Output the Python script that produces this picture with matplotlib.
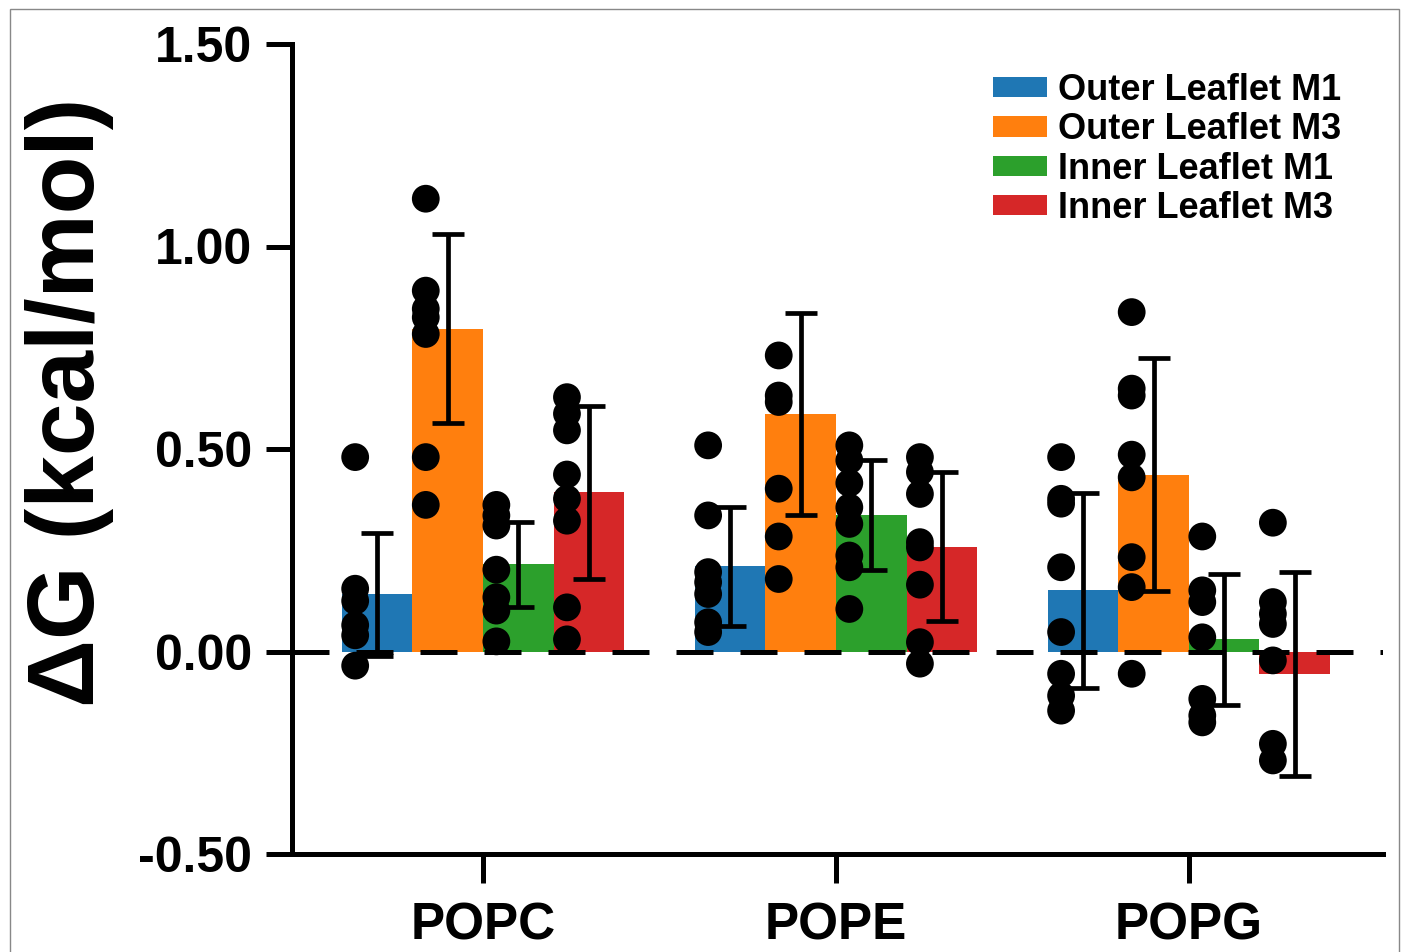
import numpy as np
import matplotlib.pyplot as plt
from matplotlib.patches import Rectangle

plt.rcParams['font.family'] = ['Liberation Sans', 'DejaVu Sans']
plt.rcParams['font.weight'] = 'bold'

# dados
lipidios = ['POPC', 'POPE', 'POPG']
series = ['Outer Leaflet M1', 'Outer Leaflet M3', 'Inner Leaflet M1', 'Inner Leaflet M3']
cores = ['#1f77b4', '#ff7f0e', '#2ca02c', '#d62728']

# médias (altura das barras), por série, na ordem POPC, POPE, POPG
media_out_m1 = [0.141, 0.210, 0.151]
media_out_m3 = [0.797, 0.587, 0.437]
media_in_m1 = [0.215, 0.337, 0.030]
media_in_m3 = [0.393, 0.259, -0.055]

# desvio padrão (barras de erro)
dp_out_m1 = [0.151, 0.147, 0.240]
dp_out_m3 = [0.233, 0.249, 0.288]
dp_in_m1 = [0.105, 0.135, 0.162]
dp_in_m3 = [0.214, 0.183, 0.252]

# pontos individuais
pts_out_m1 = [
    [0.48, 0.155, 0.125, 0.065, 0.04, -0.035],
    [0.509, 0.336, 0.196, 0.171, 0.142, 0.072, 0.048],
    [0.48, 0.377, 0.365, 0.208, 0.048, -0.055, -0.109, -0.146],
]
pts_out_m3 = [
    [1.118, 0.891, 0.846, 0.825, 0.784, 0.48, 0.362],
    [0.731, 0.632, 0.616, 0.402, 0.284, 0.179],
    [0.838, 0.649, 0.632, 0.486, 0.43, 0.233, 0.159, -0.055],
]
pts_in_m1 = [
    [0.362, 0.336, 0.311, 0.202, 0.134, 0.101, 0.025],
    [0.509, 0.472, 0.416, 0.356, 0.315, 0.237, 0.208, 0.105],
    [0.284, 0.151, 0.122, 0.035, -0.117, -0.158, -0.175],
]
pts_in_m3 = [
    [0.628, 0.587, 0.546, 0.437, 0.377, 0.323, 0.109, 0.03],
    [0.48, 0.443, 0.389, 0.27, 0.257, 0.165, 0.023, -0.03],
    [0.318, 0.122, 0.093, 0.068, -0.022, -0.228, -0.269],
]

medias = [media_out_m1, media_out_m3, media_in_m1, media_in_m3]
desvios = [dp_out_m1, dp_out_m3, dp_in_m1, dp_in_m3]
pontos = [pts_out_m1, pts_out_m3, pts_in_m1, pts_in_m3]

yticks = [-0.5, 0.0, 0.5, 1.0, 1.5]
ytick_labels = ['-0.50', '0.00', '0.50', '1.00', '1.50']

fig = plt.figure(figsize=(14.01, 9.52), dpi=100)
ax = fig.add_axes([292 / 1401, 1 - 854 / 952, (1383 - 292) / 1401, 810 / 952])

x = np.arange(len(lipidios))
largura = 0.2
deslocamentos = [-0.3, -0.1, 0.1, 0.3]

for i in range(4):
    xs = x + deslocamentos[i]
    ax.bar(xs, medias[i], width=largura, color=cores[i], label=series[i], zorder=1)
    ax.errorbar(xs, medias[i], yerr=desvios[i], fmt='none', ecolor='black',
                elinewidth=3.4, capsize=11.5, capthick=3.4, zorder=4)
    for j in range(len(lipidios)):
        ax.scatter(np.full(len(pontos[i][j]), xs[j] - 0.062), pontos[i][j],
                   s=400, color='black', edgecolors='none', zorder=3)

ax.axhline(0, color='black', lw=3.6, ls=(0, (7.4, 5.4)), zorder=2)

ax.set_xlim(-0.541, 2.55)
ax.set_ylim(-0.5, 1.5)
ax.set_yticks(yticks)
ax.set_yticklabels(ytick_labels)
ax.set_xticks(x)
ax.set_xticklabels(lipidios)

for lado in ['top', 'right']:
    ax.spines[lado].set_visible(False)
for lado in ['left', 'bottom']:
    ax.spines[lado].set_linewidth(3.6)

ax.tick_params(axis='y', length=19, width=3.6, labelsize=36, pad=10)
ax.tick_params(axis='x', length=21, width=3.6, labelsize=37, pad=13)
for t in ax.get_xticklabels() + ax.get_yticklabels():
    t.set_fontweight('bold')

ax.set_ylabel('ΔG (kcal/mol)', fontsize=68, fontweight='bold')
ax.yaxis.set_label_coords(-0.163, 0.558)

ax.legend(loc='upper left', bbox_to_anchor=(993 / 1401, 1 - 73 / 952),
          bbox_transform=fig.transFigure, frameon=False,
          handlelength=1.5, handleheight=0.5, handletextpad=0.3,
          labelspacing=0.12, borderpad=0, borderaxespad=0,
          prop={'weight': 'bold', 'size': 26})

# moldura cinza fina em volta da figura
fig.patches.append(Rectangle((10 / 1401, -0.05), (1399 - 10) / 1401, 1.05 - 9 / 952,
                             transform=fig.transFigure, fill=False,
                             edgecolor='#888888', lw=1))

fig.savefig('out.png', dpi=100)
